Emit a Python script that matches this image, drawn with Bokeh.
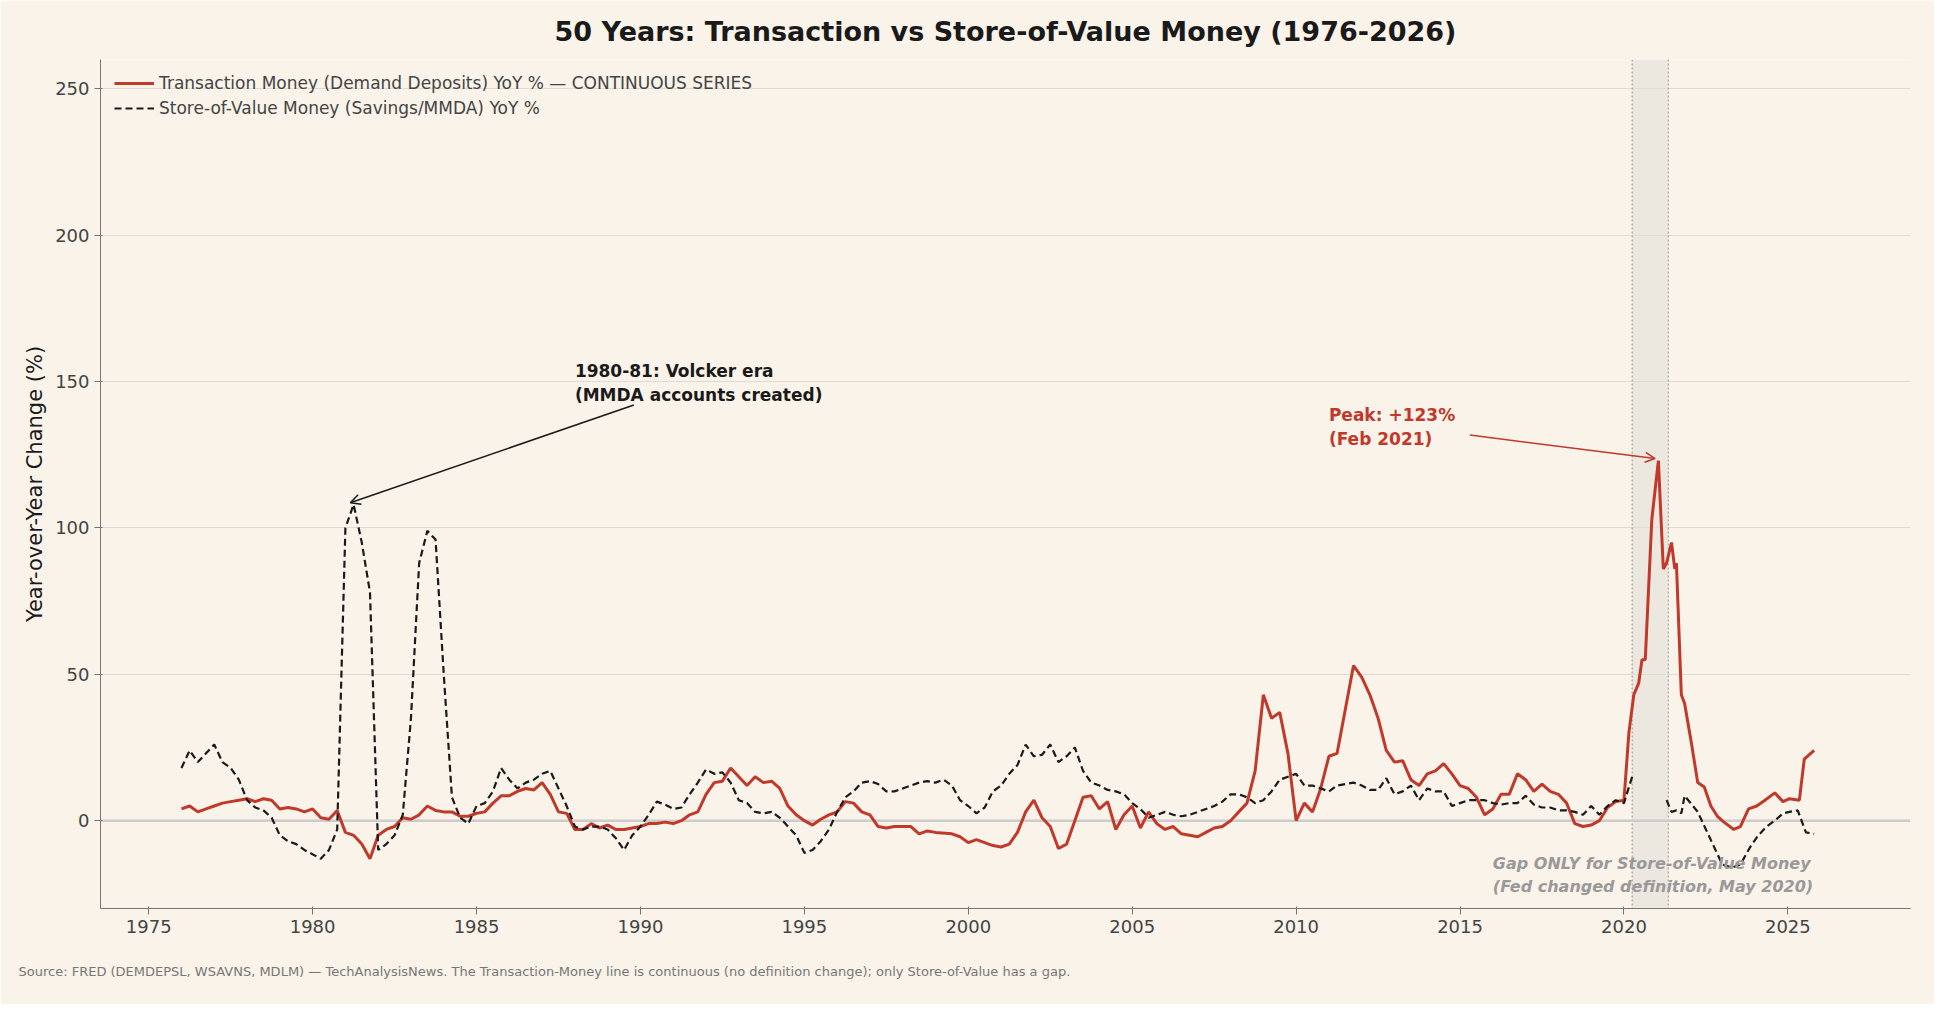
import numpy as np

from bokeh.embed import file_html
from bokeh.resources import INLINE
from bokeh.plotting import figure
from bokeh.models import (Arrow, OpenHead, Label, BoxAnnotation, Span, Title,
                          Legend, LegendItem, SingleIntervalTicker)

# Transaction money (demand deposits) YoY %
tx_x = [1976.0, 1976.25, 1976.5, 1976.75, 1977.0, 1977.25, 1977.5, 1977.75, 1978.0, 1978.25,
        1978.5, 1978.75, 1979.0, 1979.25, 1979.5, 1979.75, 1980.0, 1980.25, 1980.5, 1980.75,
        1981.0, 1981.25, 1981.5, 1981.75, 1982.0, 1982.25, 1982.5, 1982.75, 1983.0, 1983.25,
        1983.5, 1983.75, 1984.0, 1984.25, 1984.5, 1984.75, 1985.0, 1985.25, 1985.5, 1985.75,
        1986.0, 1986.25, 1986.5, 1986.75, 1987.0, 1987.25, 1987.5, 1987.75, 1988.0, 1988.25,
        1988.5, 1988.75, 1989.0, 1989.25, 1989.5, 1989.75, 1990.0, 1990.25, 1990.5, 1990.75,
        1991.0, 1991.25, 1991.5, 1991.75, 1992.0, 1992.25, 1992.5, 1992.75, 1993.0, 1993.25,
        1993.5, 1993.75, 1994.0, 1994.25, 1994.5, 1994.75, 1995.0, 1995.25, 1995.5, 1995.75,
        1996.0, 1996.25, 1996.5, 1996.75, 1997.0, 1997.25, 1997.5, 1997.75, 1998.0, 1998.25,
        1998.5, 1998.75, 1999.0, 1999.5, 1999.75, 2000.0, 2000.25, 2000.5, 2000.75, 2001.0,
        2001.25, 2001.5, 2001.75, 2002.0, 2002.25, 2002.5, 2002.75, 2003.0, 2003.25, 2003.5,
        2003.75, 2004.0, 2004.25, 2004.5, 2004.75, 2005.0, 2005.25, 2005.5, 2005.75, 2006.0,
        2006.25, 2006.5, 2007.0, 2007.25, 2007.5, 2007.75, 2008.0, 2008.25, 2008.5, 2008.75,
        2009.0, 2009.25, 2009.5, 2009.75, 2010.0, 2010.25, 2010.5, 2010.75, 2011.0, 2011.25,
        2011.5, 2011.75, 2012.0, 2012.25, 2012.5, 2012.75, 2013.0, 2013.25, 2013.5, 2013.75,
        2014.0, 2014.25, 2014.5, 2014.75, 2015.0, 2015.25, 2015.5, 2015.75, 2016.0, 2016.25,
        2016.5, 2016.75, 2017.0, 2017.25, 2017.5, 2017.75, 2018.0, 2018.25, 2018.5, 2018.75,
        2019.0, 2019.25, 2019.5, 2019.75, 2020.0, 2020.15, 2020.3, 2020.45, 2020.55, 2020.65,
        2020.85, 2021.05, 2021.2, 2021.3, 2021.45, 2021.55, 2021.6, 2021.75, 2021.85, 2022.05,
        2022.25, 2022.45, 2022.65, 2022.85, 2023.05, 2023.35, 2023.55, 2023.8, 2024.05, 2024.3,
        2024.6, 2024.85, 2025.05, 2025.35, 2025.5, 2025.8]
tx_y = [4, 5, 3, 4, 5, 6, 6.5, 7, 7.5, 6.5,
        7.5, 7, 4, 4.5, 4, 3, 4, 1, 0.5, 3.5,
        -4, -5, -8, -13, -5, -3, -2, 1, 0.5, 2,
        5, 3.5, 3, 3, 1.5, 1.5, 2.5, 3, 6, 8.5,
        8.5, 10, 11, 10.5, 13, 9, 3, 2.5, -3, -3,
        -1, -2.5, -1.5, -3, -3, -2.5, -2, -1, -1, -0.5,
        -1, 0, 2, 3, 9, 13, 13.5, 18, 15, 12,
        15, 13, 13.5, 11, 5, 2, 0, -1.5, 0.5, 2,
        3, 6.5, 6, 3, 2, -2, -2.5, -2, -2, -2,
        -4.5, -3.5, -4, -4.5, -5.5, -7.5, -6.5, -7.5, -8.5, -9,
        -8, -4, 3, 7, 1, -2, -9.5, -8, 0, 8,
        8.5, 4, 6.5, -3, 2, 5, -2.5, 3, -1, -3,
        -2, -4.5, -5.5, -4, -2.5, -2, 0, 3, 6, 17,
        43, 35, 37, 23, 0, 6, 3, 11, 22, 23,
        38, 53, 49, 43, 35, 24, 20, 20.5, 14, 12,
        16, 17, 19.5, 16, 12, 11, 8, 2, 4, 9,
        9, 16, 14, 10, 12.5, 10, 9, 6, -1, -2,
        -1.5, 0, 4.5, 6.5, 7, 30, 43, 47, 55, 55,
        103, 123, 86, 88, 95, 86, 88, 43, 40, 27,
        13, 11.5, 5, 1.5, -0.5, -3, -2, 4, 5, 7,
        9.5, 6.5, 7.5, 7, 21, 24]

# Store-of-value money (savings/MMDA) YoY %; NaN = definition gap
sv_x = [1976.0, 1976.25, 1976.5, 1976.75, 1977.0, 1977.25, 1977.5, 1977.75, 1978.0, 1978.25,
        1978.5, 1978.75, 1979.0, 1979.25, 1979.5, 1979.75, 1980.25, 1980.5, 1980.75, 1981.0,
        1981.25, 1981.5, 1981.75, 1982.0, 1982.25, 1982.5, 1982.75, 1983.0, 1983.25, 1983.5,
        1983.75, 1984.0, 1984.25, 1984.5, 1984.75, 1985.0, 1985.25, 1985.5, 1985.75, 1986.0,
        1986.25, 1986.5, 1986.75, 1987.0, 1987.25, 1987.5, 1987.75, 1988.0, 1988.25, 1988.5,
        1988.75, 1989.0, 1989.25, 1989.5, 1989.75, 1990.0, 1990.25, 1990.5, 1990.75, 1991.0,
        1991.25, 1991.5, 1991.75, 1992.0, 1992.25, 1992.5, 1992.75, 1993.0, 1993.25, 1993.5,
        1993.75, 1994.0, 1994.25, 1994.5, 1994.75, 1995.0, 1995.25, 1995.5, 1995.75, 1996.0,
        1996.25, 1996.5, 1996.75, 1997.0, 1997.25, 1997.5, 1997.75, 1998.0, 1998.25, 1998.5,
        1998.75, 1999.0, 1999.25, 1999.5, 1999.75, 2000.0, 2000.25, 2000.5, 2000.75, 2001.0,
        2001.25, 2001.5, 2001.75, 2002.0, 2002.25, 2002.5, 2002.75, 2003.0, 2003.25, 2003.5,
        2003.75, 2004.0, 2004.25, 2004.5, 2004.75, 2005.0, 2005.25, 2005.5, 2005.75, 2006.0,
        2006.25, 2006.5, 2006.75, 2007.0, 2007.25, 2007.5, 2007.75, 2008.0, 2008.25, 2008.5,
        2008.75, 2009.0, 2009.25, 2009.5, 2009.75, 2010.0, 2010.25, 2010.5, 2010.75, 2011.0,
        2011.25, 2011.5, 2011.75, 2012.0, 2012.25, 2012.5, 2012.75, 2013.0, 2013.25, 2013.5,
        2013.75, 2014.0, 2014.25, 2014.5, 2014.75, 2015.0, 2015.25, 2015.5, 2015.75, 2016.0,
        2016.25, 2016.5, 2016.75, 2017.0, 2017.25, 2017.5, 2017.75, 2018.0, 2018.25, 2018.5,
        2018.75, 2019.0, 2019.25, 2019.5, 2019.75, 2020.0, 2020.25, 2020.8, 2021.3, 2021.45,
        2021.6, 2021.75, 2021.85, 2022.25, 2022.5, 2022.75, 2023.0, 2023.3, 2023.55, 2023.85,
        2024.1, 2024.35, 2024.6, 2024.85, 2025.05, 2025.3, 2025.55, 2025.8]
sv_y = [18, 24, 20, 23, 26, 20, 18, 14, 7, 4.5,
        3.5, 1, -5, -7, -8, -10, -13, -10, -3, 100,
        108, 95, 78, -10, -8, -5, 2, 35, 88, 99,
        96, 50, 8, 1, -1, 5, 6, 10, 18, 14,
        11, 13, 14, 16, 17, 11, 5, -2, -3, -2,
        -2, -3, -6, -10, -5, -2, 2, 6.5, 5.5, 4,
        4.5, 9, 13, 17.5, 16, 16.5, 13, 7, 6, 3,
        2.5, 3, 1, -2, -5, -11, -10, -7, -3, 3,
        8, 10, 13, 13.5, 12.5, 10, 10, 11, 12, 13,
        13.5, 13, 14, 12, 7, 5, 2.5, 4.5, 10, 12,
        16, 19, 26, 22, 22.5, 26, 20, 22, 25, 17,
        13, 12, 10.5, 10, 9, 6, 4, 1, 2, 3,
        2, 1.5, 2, 3, 4, 5, 6.5, 9, 9, 8,
        6, 7, 10, 14, 15, 16, 12, 12, 11, 10,
        12, 12.5, 13, 12, 10.5, 10.5, 14.5, 9, 10, 12,
        7, 11, 10, 10, 5, 6, 7, 7, 7, 6,
        5.5, 6, 6, 8.5, 5.5, 4.5, 4.5, 3.5, 3.5, 3,
        2, 5, 2, 5, 7, 6, 15, np.nan, 7, 3,
        3.5, 2.5, 8.5, 3, -3, -9, -15, -16, -15, -9,
        -5, -2, 0, 2.5, 3, 3.5, -4, -4.5]

gap_start, gap_end = 2020.25, 2021.35

BG = "#f9f3e9"
RED = "#c0392b"

p = figure(width=1934, height=1004, x_range=(1973.53, 2028.74), y_range=(-30, 260),
           output_backend="svg", toolbar_location=None,
           background_fill_color=BG, border_fill_color=BG,
           min_border_left=100, min_border_right=24, min_border_top=22)

p.title.text = "50 Years: Transaction vs Store-of-Value Money (1976-2026)"
p.title.align = "center"
p.title.text_font = "DejaVu Sans"
p.title.text_font_size = "27px"
p.title.text_color = "#1a1a1a"
p.title.offset = 0
p.title.standoff = 26

p.add_layout(Title(text="Source: FRED (DEMDEPSL, WSAVNS, MDLM) \u2014 TechAnalysisNews. The Transaction-Money line is continuous (no definition change); only Store-of-Value has a gap.",
                   align="left", text_font="DejaVu Sans", text_font_size="13px",
                   text_font_style="normal", text_color="#777777", offset=-82, standoff=52), "below")

p.add_layout(BoxAnnotation(left=gap_start, right=gap_end, fill_color="#e0ddd8", fill_alpha=0.5,
                           line_color=None, level="underlay"))
for gx in (gap_start, gap_end):
    p.add_layout(Span(location=gx, dimension="height", line_color="#999999",
                      line_dash="2 2", line_width=1, level="underlay"))
p.add_layout(Span(location=0, dimension="width", line_color="#cccccc", line_width=2.5,
                  level="underlay"))

r_tx = p.line(tx_x, tx_y, line_color=RED, line_width=3)
r_sv = p.line(sv_x, sv_y, line_color="#1a1a1a", line_width=2.2, line_dash="7 4")

legend = Legend(items=[
    LegendItem(label="Transaction Money (Demand Deposits) YoY % \u2014 CONTINUOUS SERIES", renderers=[r_tx]),
    LegendItem(label="Store-of-Value Money (Savings/MMDA) YoY %", renderers=[r_sv]),
], location="top_left", background_fill_alpha=0, border_line_color=None,
    label_text_font="DejaVu Sans", label_text_font_size="17px", spacing=5,
    glyph_width=40, label_height=20, margin=14)
p.add_layout(legend)

# annotations
p.add_layout(Arrow(end=OpenHead(size=10, line_color="#1a1a1a", line_width=1.5),
                   x_start=1989.8, y_start=142, x_end=1981.15, y_end=108.6,
                   line_color="#1a1a1a", line_width=1.5))
p.add_layout(Label(x=1988.0, y=157, text="1980-81: Volcker era\n(MMDA accounts created)",
                   text_font="DejaVu Sans", text_font_size="17px", text_font_style="bold",
                   text_color="#1a1a1a", text_baseline="top"))
p.add_layout(Arrow(end=OpenHead(size=10, line_color=RED, line_width=1.5),
                   x_start=2015.3, y_start=131.7, x_end=2020.95, y_end=123.7,
                   line_color=RED, line_width=1.5))
p.add_layout(Label(x=2011.0, y=142, text="Peak: +123%\n(Feb 2021)",
                   text_font="DejaVu Sans", text_font_size="17px", text_font_style="bold",
                   text_color=RED, text_baseline="top"))
p.add_layout(Label(x=2016.0, y=-11.5, text="Gap ONLY for Store-of-Value Money\n(Fed changed definition, May 2020)",
                   text_font="DejaVu Sans", text_font_size="16px", text_font_style="bold italic",
                   text_color="#999999", text_baseline="top"))

p.xaxis.ticker = SingleIntervalTicker(interval=5)
p.yaxis.ticker = SingleIntervalTicker(interval=50)
p.yaxis.axis_label = "Year-over-Year Change (%)"
for ax in (p.xaxis, p.yaxis):
    ax.major_label_text_font = "DejaVu Sans"
    ax.major_label_text_font_size = "18px"
    ax.major_label_text_color = "#444444"
    ax.axis_line_color = "#777777"
    ax.major_tick_line_color = "#777777"
    ax.minor_tick_line_color = None
    ax.axis_label_text_font = "DejaVu Sans"
    ax.axis_label_text_font_size = "21px"
    ax.axis_label_text_font_style = "normal"
    ax.axis_label_text_color = "#1a1a1a"
p.xgrid.grid_line_color = None
p.ygrid.grid_line_color = "#dcdcd4"
p.ygrid.grid_line_width = 1
p.outline_line_color = None

open("out.html", "w").write(file_html(p, INLINE))
